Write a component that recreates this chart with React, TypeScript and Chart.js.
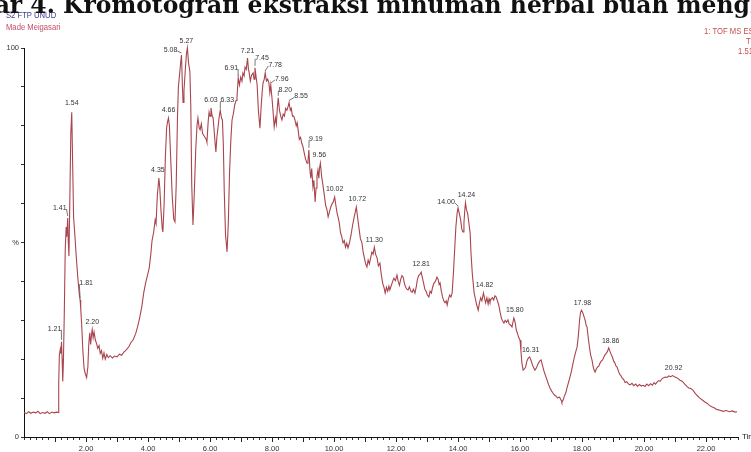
import React, { useEffect, useRef } from 'react';
import { Chart, registerables } from 'chart.js';

Chart.register(...registerables);

// ---- Data (retention time in minutes, relative intensity %) ----
const times: number[] = [
  0.00, 0.08, 0.15, 0.22, 0.30, 0.38, 0.45, 0.52, 0.60, 0.68, 0.75, 0.82, 0.90, 0.97, 1.05, 1.10,
  1.12, 1.14, 1.17, 1.19, 1.21, 1.23, 1.25, 1.27, 1.30, 1.33, 1.36, 1.38, 1.41, 1.43, 1.45, 1.48,
  1.51, 1.54, 1.57, 1.60, 1.64, 1.68, 1.73, 1.78, 1.81, 1.83, 1.86, 1.90, 1.94, 1.98, 2.02, 2.06,
  2.09, 2.12, 2.15, 2.18, 2.20, 2.23, 2.26, 2.30, 2.34, 2.38, 2.42, 2.46, 2.50, 2.54, 2.58, 2.62,
  2.67, 2.72, 2.78, 2.85, 2.92, 3.00, 3.08, 3.15, 3.22, 3.30, 3.38, 3.45, 3.52, 3.60, 3.67, 3.74,
  3.80, 3.86, 3.92, 3.98, 4.04, 4.09, 4.13, 4.18, 4.23, 4.26, 4.30, 4.35, 4.38, 4.42, 4.46, 4.48,
  4.52, 4.56, 4.60, 4.63, 4.66, 4.69, 4.73, 4.78, 4.83, 4.87, 4.91, 4.95, 4.98, 5.01, 5.05, 5.08,
  5.11, 5.13, 5.16, 5.20, 5.24, 5.27, 5.31, 5.35, 5.38, 5.41, 5.45, 5.49, 5.54, 5.58, 5.61, 5.65,
  5.68, 5.72, 5.76, 5.80, 5.84, 5.88, 5.90, 5.94, 5.97, 6.00, 6.03, 6.07, 6.10, 6.14, 6.17, 6.19,
  6.22, 6.26, 6.29, 6.33, 6.37, 6.40, 6.43, 6.46, 6.50, 6.55, 6.59, 6.63, 6.67, 6.71, 6.75, 6.80,
  6.84, 6.87, 6.91, 6.95, 6.99, 7.03, 7.06, 7.10, 7.13, 7.17, 7.21, 7.24, 7.26, 7.30, 7.34, 7.39,
  7.42, 7.45, 7.48, 7.52, 7.56, 7.61, 7.65, 7.68, 7.71, 7.75, 7.78, 7.82, 7.86, 7.90, 7.93, 7.96,
  8.00, 8.04, 8.07, 8.11, 8.14, 8.17, 8.20, 8.24, 8.28, 8.32, 8.36, 8.40, 8.44, 8.48, 8.52, 8.55,
  8.59, 8.62, 8.66, 8.70, 8.74, 8.78, 8.81, 8.84, 8.88, 8.92, 8.96, 9.00, 9.04, 9.08, 9.13, 9.16,
  9.19, 9.22, 9.25, 9.28, 9.32, 9.35, 9.39, 9.42, 9.45, 9.48, 9.51, 9.53, 9.56, 9.60, 9.65, 9.69,
  9.73, 9.77, 9.81, 9.85, 9.89, 9.94, 9.98, 10.02, 10.06, 10.10, 10.13, 10.17, 10.21, 10.25, 10.29, 10.33,
  10.37, 10.41, 10.45, 10.50, 10.55, 10.60, 10.65, 10.69, 10.72, 10.76, 10.80, 10.85, 10.90, 10.94, 10.98, 11.02,
  11.06, 11.10, 11.14, 11.18, 11.22, 11.26, 11.30, 11.34, 11.39, 11.43, 11.48, 11.52, 11.57, 11.61, 11.65, 11.69,
  11.73, 11.77, 11.80, 11.85, 11.89, 11.93, 11.98, 12.03, 12.07, 12.11, 12.15, 12.19, 12.23, 12.27, 12.31, 12.35,
  12.39, 12.43, 12.48, 12.52, 12.56, 12.61, 12.65, 12.69, 12.73, 12.77, 12.81, 12.85, 12.89, 12.93, 12.97, 13.01,
  13.06, 13.10, 13.14, 13.18, 13.22, 13.27, 13.32, 13.36, 13.39, 13.42, 13.46, 13.50, 13.54, 13.58, 13.62, 13.65,
  13.69, 13.73, 13.77, 13.81, 13.85, 13.89, 13.93, 13.97, 14.00, 14.04, 14.08, 14.12, 14.16, 14.19, 14.22, 14.24,
  14.27, 14.31, 14.35, 14.39, 14.42, 14.46, 14.49, 14.52, 14.56, 14.60, 14.65, 14.69, 14.73, 14.77, 14.82, 14.86,
  14.89, 14.93, 14.97, 15.00, 15.03, 15.07, 15.11, 15.15, 15.19, 15.23, 15.27, 15.31, 15.36, 15.40, 15.44, 15.48,
  15.52, 15.56, 15.61, 15.65, 15.69, 15.74, 15.77, 15.80, 15.84, 15.88, 15.92, 15.96, 16.00, 16.03, 16.06, 16.10,
  16.14, 16.18, 16.22, 16.26, 16.31, 16.35, 16.40, 16.44, 16.48, 16.53, 16.58, 16.63, 16.68, 16.72, 16.77, 16.82,
  16.87, 16.92, 16.97, 17.02, 17.06, 17.11, 17.16, 17.21, 17.26, 17.29, 17.33, 17.35, 17.39, 17.43, 17.48, 17.52,
  17.57, 17.61, 17.66, 17.71, 17.75, 17.80, 17.84, 17.88, 17.92, 17.95, 17.98, 18.02, 18.06, 18.10, 18.13, 18.16,
  18.20, 18.24, 18.28, 18.32, 18.36, 18.39, 18.42, 18.46, 18.50, 18.54, 18.58, 18.62, 18.66, 18.70, 18.74, 18.78,
  18.82, 18.86, 18.90, 18.94, 18.98, 19.02, 19.06, 19.09, 19.13, 19.17, 19.21, 19.25, 19.29, 19.34, 19.39, 19.44,
  19.50, 19.55, 19.61, 19.67, 19.73, 19.79, 19.85, 19.91, 19.97, 20.03, 20.09, 20.15, 20.21, 20.27, 20.32, 20.37,
  20.42, 20.47, 20.52, 20.57, 20.62, 20.68, 20.74, 20.80, 20.86, 20.92, 20.98, 21.04, 21.10, 21.16, 21.21, 21.26,
  21.32, 21.38, 21.44, 21.50, 21.58, 21.65, 21.72, 21.80, 21.88, 21.96, 22.03, 22.10, 22.18, 22.26, 22.34, 22.45,
  22.55, 22.65, 22.75, 22.85, 22.93, 23.00,
];

const intensity: number[] = [
  6.3, 6.0, 6.5, 6.1, 6.4, 6.2, 6.6, 6.0, 6.3, 6.1, 6.5, 6.0, 6.4, 6.2, 6.4, 6.3,
  14.0, 21.0, 22.5, 21.5, 24.5, 20.0, 14.3, 19.0, 32.0, 48.0, 54.0, 51.5, 56.3, 50.0, 46.5, 62.0,
  78.0, 83.5, 70.0, 56.5, 52.0, 47.0, 41.5, 37.0, 35.2, 33.0, 29.0, 22.0, 17.5, 16.2, 15.3, 18.0,
  24.0, 26.8, 23.8, 26.5, 27.6, 25.5, 27.0, 25.0, 24.0, 22.8, 23.5, 21.5, 22.2, 20.2, 21.6, 20.0,
  21.2, 20.4, 20.9, 20.3, 20.8, 20.6, 21.3, 21.0, 21.8, 22.4, 23.2, 24.3, 25.0, 26.5, 28.5, 31.0,
  33.5, 37.0, 39.5, 41.5, 43.5, 47.0, 50.5, 52.5, 55.8, 54.8, 62.0, 66.6, 64.0, 58.0, 53.5, 52.7,
  60.0, 72.0, 79.5, 81.0, 82.0, 80.0, 72.0, 62.0, 56.0, 55.3, 65.0, 82.0, 90.0, 92.5, 96.0, 98.2,
  90.0, 86.0, 89.0, 94.0, 98.5, 100.0, 96.0, 94.0, 85.0, 65.0, 54.5, 62.0, 74.0, 80.0, 82.0, 79.5,
  79.0, 80.5, 78.0, 77.5, 77.0, 76.5, 75.8, 81.0, 83.5, 82.5, 84.6, 82.5, 82.0, 78.0, 75.0, 73.3,
  77.0, 79.7, 82.0, 84.0, 82.0, 81.5, 75.0, 63.0, 52.0, 47.6, 55.0, 68.0, 76.0, 81.5, 83.0, 85.5,
  86.5, 87.4, 92.3, 90.5, 92.5, 91.5, 93.6, 92.8, 95.1, 94.5, 97.4, 94.5, 93.8, 91.5, 93.0, 93.6,
  92.0, 94.9, 93.0, 90.5, 84.0, 79.4, 85.0, 88.5, 91.0, 92.0, 93.6, 91.5, 92.0, 91.0, 88.5, 90.5,
  87.0, 83.0, 79.7, 82.0, 80.5, 84.5, 87.2, 84.0, 82.5, 81.5, 83.0, 82.5, 84.5, 84.0, 85.0, 86.0,
  84.0, 84.5, 82.5, 82.5, 81.5, 80.0, 80.8, 79.0, 76.5, 77.0, 75.5, 74.6, 73.0, 71.5, 70.4, 71.0,
  73.8, 69.0, 66.5, 69.0, 64.3, 66.0, 60.4, 64.0, 67.0, 68.6, 66.5, 69.0, 70.4, 67.0, 64.3, 62.0,
  59.5, 58.5, 56.6, 57.8, 59.0, 60.0, 60.5, 61.7, 59.5, 57.5, 56.6, 55.0, 52.5, 51.5, 49.9, 50.5,
  48.8, 49.8, 48.6, 50.0, 52.0, 54.5, 56.5, 58.0, 59.1, 56.5, 54.0, 51.0, 49.9, 47.5, 46.0, 44.5,
  43.7, 45.5, 44.5, 46.0, 47.5, 47.0, 48.8, 47.0, 46.0, 44.0, 44.7, 42.0, 39.5, 38.5, 37.0, 38.5,
  37.5, 38.8, 37.8, 39.0, 40.0, 40.8, 40.2, 41.6, 40.0, 39.0, 40.5, 41.5, 41.1, 39.5, 38.5, 38.0,
  37.8, 38.6, 37.5, 37.2, 38.0, 37.0, 38.5, 40.5, 41.5, 41.8, 42.4, 41.0, 39.5, 38.0, 37.5, 36.5,
  36.0, 37.5, 37.0, 38.5, 39.5, 40.0, 41.1, 40.5, 39.2, 39.6, 37.5, 36.0, 35.0, 34.5, 35.0, 33.9,
  35.5, 36.5, 36.0, 37.0, 42.0, 48.0, 54.0, 57.5, 58.9, 57.5, 56.0, 53.5, 52.7, 55.0, 58.5, 60.2,
  58.5, 57.5, 55.0, 52.4, 47.0, 42.0, 39.5, 37.0, 35.5, 34.0, 32.6, 34.5, 35.8, 35.0, 37.0, 35.5,
  34.5, 35.8, 34.2, 35.5, 34.7, 35.5, 35.8, 35.2, 36.3, 36.0, 35.0, 34.0, 32.0, 30.5, 29.8, 29.3,
  30.0, 29.5, 30.1, 29.0, 28.8, 28.3, 29.5, 30.6, 29.5, 27.5, 26.5, 25.5, 24.9, 22.0, 19.0, 17.2,
  17.5, 18.0, 19.5, 20.2, 20.6, 19.8, 18.5, 17.8, 17.2, 17.8, 18.8, 19.5, 19.8, 18.5, 17.0, 15.8,
  14.7, 13.5, 12.5, 11.8, 11.3, 10.8, 10.5, 10.0, 10.3, 10.0, 9.4, 8.9, 9.5, 10.5, 11.5, 12.8,
  14.2, 15.4, 17.0, 19.0, 20.5, 22.0, 23.1, 26.0, 30.0, 32.0, 32.6, 32.0, 31.0, 30.0, 28.8, 28.3,
  25.5, 23.0, 21.0, 19.8, 18.0, 17.2, 16.7, 17.5, 18.0, 18.2, 19.0, 19.5, 19.8, 20.5, 21.1, 21.5,
  22.0, 22.9, 22.0, 21.2, 20.5, 19.5, 19.0, 18.3, 18.0, 17.0, 16.2, 15.8, 15.2, 14.8, 14.0, 14.2,
  13.6, 13.4, 13.8, 13.2, 13.6, 13.0, 13.5, 13.1, 13.3, 13.0, 13.6, 13.2, 13.7, 13.3, 14.0, 13.6,
  14.1, 14.5, 14.3, 14.9, 15.2, 15.4, 15.3, 15.7, 15.5, 15.8, 15.5, 15.3, 15.0, 14.6, 14.4, 14.1,
  13.5, 13.0, 12.6, 12.5, 12.0, 11.2, 10.6, 10.0, 9.5, 9.0, 8.7, 8.2, 7.8, 7.5, 7.1, 6.9,
  6.6, 6.8, 6.5, 6.7, 6.4, 6.5,
];

const peakLabels: string[] = [
  '1.21', '1.41', '1.54', '1.81', '2.20', '4.35', '4.66', '5.08', '5.27', '6.03', '6.33',
  '6.91', '7.21', '7.45', '7.78', '7.96', '8.20', '8.55', '9.19', '9.56', '10.02', '10.72',
  '11.30', '12.81', '14.00', '14.24', '14.82', '15.80', '16.31', '17.98', '18.86', '20.92',
];

const xTickLabels: string[] = ['2.00', '4.00', '6.00', '8.00', '10.00', '12.00', '14.00', '16.00', '18.00', '20.00', '22.00'];
const yTickLabels: Record<number, string> = { 0: '0', 50: '%', 100: '100' };

const titleText = 'Gambar 4. Kromotografi ekstraksi minuman herbal buah mengkudu';
const headerLeft: string[] = ['S2 FTP UNUD', 'Made Meigasari'];
const headerRight: string[] = ['1: TOF MS ES+', 'TIC', '1.51e4'];
const axisTitleX = 'Time';

// ---- Styles (label placement relative to the peak, in px; leader line flag) ----
const labelStyle: [number, number, boolean][] = [
  [-7, -13, true], [-8, -10, true], [0, -9, false], [6, -17, true], [0, -8, false],
  [-1, -8, false], [0, -8, false], [-11, -5, true], [-1, -7, false], [0, -8, false],
  [7, -10, true], [-7, -10, true], [0, -7, false], [7, -10, true], [10, -8, true],
  [11, -6, true], [7, -8, true], [12, -6, true], [7, -11, true], [-1, -8, false],
  [0, -8, false], [1, -8, false], [0, -7, false], [0, -8, false], [-12, -6, true],
  [1, -8, false], [1, -8, false], [1, -8, false], [1, -7, false], [1, -7, false],
  [2, -7, false], [1, -7, false],
];

const LINE_COLOR = '#a8454d';
const FONT = '"Liberation Sans", Arial, sans-serif';
const TITLE_FONT = '"DejaVu Serif", "Liberation Serif", serif';

function valueAt(t: number): number {
  let best = 0;
  for (let i = 0; i < times.length; i++) {
    if (Math.abs(times[i] - t) < Math.abs(times[best] - t)) best = i;
  }
  return intensity[best];
}

function condensedText(ctx: CanvasRenderingContext2D, text: string, x: number, y: number, sx: number) {
  ctx.save();
  ctx.translate(x, y);
  ctx.scale(sx, 1);
  ctx.fillText(text, 0, 0);
  ctx.restore();
}

const overlayPlugin = {
  id: 'overlay',
  afterDraw(chart: any) {
    const ctx: CanvasRenderingContext2D = chart.ctx;
    const xs = chart.scales.x;
    const ys = chart.scales.y;
    ctx.save();

    // longer tick marks at whole minutes
    ctx.strokeStyle = '#222';
    ctx.lineWidth = 1;
    for (let m = 1; m <= 22; m++) {
      const px = Math.round(xs.getPixelForValue(m)) + 0.5;
      ctx.beginPath();
      ctx.moveTo(px, ys.bottom);
      ctx.lineTo(px, ys.bottom + 5);
      ctx.stroke();
    }

    // peak labels
    ctx.font = `7px ${FONT}`;
    ctx.fillStyle = '#333';
    ctx.textAlign = 'center';
    ctx.textBaseline = 'middle';
    peakLabels.forEach((lab, i) => {
      const t = parseFloat(lab);
      const ax = xs.getPixelForValue(t);
      const ay = ys.getPixelForValue(valueAt(t));
      const [dx, dy, leader] = labelStyle[i];
      const tx = ax + dx;
      const ty = ay + dy;
      ctx.fillText(lab, tx, ty);
      if (leader) {
        const w = ctx.measureText(lab).width;
        let sx = tx;
        let sy = ty + 3;
        if (dx < -3) { sx = tx + w / 2; sy = ty + 1; }
        else if (dx > 3) { sx = tx - w / 2; sy = ty + 1; }
        ctx.strokeStyle = '#555';
        ctx.lineWidth = 0.8;
        ctx.beginPath();
        ctx.moveTo(sx, sy);
        ctx.lineTo(ax, ay - 2);
        ctx.stroke();
      }
    });

    // axis title (clipped at the right edge)
    ctx.textAlign = 'left';
    ctx.font = `8px ${FONT}`;
    ctx.fillStyle = '#222';
    ctx.fillText(axisTitleX, xs.right + 4, ys.bottom);

    // header texts
    ctx.font = `9px ${FONT}`;
    ctx.fillStyle = '#3a3a8c';
    condensedText(ctx, headerLeft[0], 6, 16, 0.85);
    ctx.fillStyle = '#c24f6a';
    condensedText(ctx, headerLeft[1], 6, 28, 0.85);
    ctx.fillStyle = '#c0504d';
    condensedText(ctx, headerRight[0], 704, 32, 0.85);
    condensedText(ctx, headerRight[1], 746, 42, 0.85);
    condensedText(ctx, headerRight[2], 738, 52, 0.85);

    // title (cut off at top and sides like the reference)
    ctx.font = `bold 20px ${TITLE_FONT}`;
    const span = ctx.measureText('Kromotografi ekstraksi minuman herbal buah ').width;
    const size = (20 * 614) / span;
    ctx.font = `bold ${size.toFixed(2)}px ${TITLE_FONT}`;
    ctx.fillStyle = '#111';
    ctx.textBaseline = 'alphabetic';
    const pre = ctx.measureText('Gambar 4. ').width;
    ctx.fillText(titleText, 63 - pre, 13);

    ctx.restore();
  },
};

export default function App() {
  const canvasRef = useRef<HTMLCanvasElement | null>(null);

  useEffect(() => {
    if (!canvasRef.current) return;
    Chart.defaults.font.family = FONT;
    const chart = new Chart(canvasRef.current, {
      type: 'line',
      data: {
        datasets: [
          {
            data: times.map((t, i) => ({ x: t, y: intensity[i] })),
            borderColor: LINE_COLOR,
            borderWidth: 1.1,
            pointRadius: 0,
            tension: 0,
            fill: false,
            clip: false as any,
          },
        ],
      },
      options: {
        responsive: false,
        animation: false,
        devicePixelRatio: 1,
        layout: { padding: { left: 0, right: 13, top: 48, bottom: 0 } },
        plugins: { legend: { display: false }, tooltip: { enabled: false } },
        scales: {
          x: {
            type: 'linear',
            min: 0,
            max: 23.03,
            afterFit: (s: any) => { s.height = 15; },
            grid: { drawOnChartArea: false, tickLength: 3, color: '#333', lineWidth: 1 },
            border: { color: '#111', width: 1 },
            ticks: {
              stepSize: 0.2,
              autoSkip: false,
              maxRotation: 0,
              minRotation: 0,
              padding: 4,
              color: '#333',
              font: { size: 7.5 },
              callback: (v: any) => {
                const n = Number(v);
                const r = Math.round(n);
                if (Math.abs(n - r) < 1e-6 && r % 2 === 0 && r > 0) {
                  return xTickLabels[r / 2 - 1] ?? '';
                }
                return '';
              },
            },
          },
          y: {
            min: 0,
            max: 100,
            afterFit: (s: any) => { s.width = 24; },
            grid: { drawOnChartArea: false, tickLength: 3, color: '#333', lineWidth: 1 },
            border: { color: '#111', width: 1 },
            ticks: {
              stepSize: 10,
              padding: 2,
              color: '#333',
              font: { size: 7.5 },
              callback: (v: any) => yTickLabels[Math.round(Number(v))] ?? '',
            },
          },
        },
      },
      plugins: [overlayPlugin],
    });
    return () => chart.destroy();
  }, []);

  return (
    <div style={{ position: 'absolute', left: 0, top: 0, width: 751, height: 452, background: '#fff', overflow: 'hidden' }}>
      <canvas ref={canvasRef} width={751} height={452} style={{ display: 'block' }} />
    </div>
  );
}
